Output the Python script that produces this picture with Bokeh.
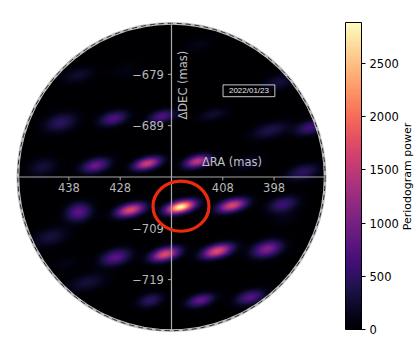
import numpy as np
from bokeh.core.properties import value
from bokeh.embed import file_html
from bokeh.models import (ColorBar, FixedTicker, Label, LinearColorMapper, Range1d)
from bokeh.palettes import Magma256
from bokeh.plotting import figure
from bokeh.resources import INLINE

# Peak positions and powers
blob_ra = [412.9, 436.1, 427.0, 397.1, 439.6, 429.3, 419.8, 409.8, 398.7, 390.9, 443.1, 432.8, 422.7, 412.9, 403.0, 392.3,
           436.1, 426.0, 416.2, 406.1, 396.2, 441.6, 428.9, 419.2, 409.0, 399.3, 434.4, 422.1, 412.3, 402.6, 395.8, 438.5]
blob_dec = [-673.4, -679.2, -678.2, -680.6, -688.4, -687.6, -687.2, -686.8, -689.9, -689.4, -697.1, -696.8, -696.4, -696.0, -696.2, -698.1,
            -705.9, -705.5, -704.9, -704.6, -704.4, -710.8, -714.7, -714.1, -713.5, -713.1, -719.6, -723.1, -723.1, -722.5, -707.1, -715.9]
blob_power = [120, 250, 100, 300, 480, 720, 720, 250, 380, 620, 300, 900, 1600, 1500, 250, 480,
              800, 1750, 2880, 1700, 600, 320, 800, 1750, 1750, 1050, 300, 500, 850, 750, 110, 110]
blob_len = [2.2, 2.2, 2.2, 2.2, 2.2, 1.9, 1.8, 2.0, 2.6, 2.0, 2.0, 1.9, 1.8, 1.7, 2.0, 2.2,
            1.7, 1.9, 1.9, 1.9, 2.0, 2.4, 2.0, 1.9, 2.0, 2.0, 2.6, 1.7, 1.8, 1.9, 2.0, 2.0]
blob_wid = [1.0, 1.0, 1.0, 1.0, 1.2, 0.9, 0.8, 0.8, 1.0, 0.9, 1.2, 0.9, 0.75, 0.75, 0.9, 1.0,
            1.2, 0.8, 0.75, 0.8, 1.0, 1.2, 1.0, 0.8, 0.8, 1.0, 1.1, 0.9, 0.8, 0.9, 1.0, 1.0]

ra_ticks = [438, 428, 408, 398]
dec_ticks = [-679, -689, -709, -719]
cbar_ticks = [0, 500, 1000, 1500, 2000, 2500]
center_ra, center_dec, disk_radius = 418.0, -699.0, 29.95
highlight_ra, highlight_dec = 416.15, -704.7
highlight_w, highlight_h = 10.9, 9.75
date_text = "2022/01/23"
power_max = 2885

# sky image built from the read peaks
n = 460
ras = np.linspace(center_ra - disk_radius, center_ra + disk_radius, n)
decs = np.linspace(center_dec - disk_radius, center_dec + disk_radius, n)
X, Y = np.meshgrid(ras, decs)
Z = np.zeros_like(X)
tilt = np.deg2rad(14)
for r, d, pw, ln, wd in zip(blob_ra, blob_dec, blob_power, blob_len, blob_wid):
    dx, dy = -(X - r), Y - d
    u = dx * np.cos(tilt) + dy * np.sin(tilt)
    v = -dx * np.sin(tilt) + dy * np.cos(tilt)
    Z += pw * np.exp(-0.5 * (u / ln) ** 2 - 0.5 * (v / wd) ** 2)
Z[(X - center_ra) ** 2 + (Y - center_dec) ** 2 > disk_radius ** 2] = np.nan

mapper = LinearColorMapper(palette=Magma256, low=0, high=power_max, nan_color=(0, 0, 0, 0))

p = figure(width=416, height=340, output_backend="svg", toolbar_location=None,
           x_axis_type=None, y_axis_type=None, min_border=0, outline_line_color=None,
           x_range=Range1d(451.33, 370.24), y_range=Range1d(-730.87, -664.6))
p.grid.visible = False
p.image(image=[Z], x=center_ra - disk_radius, y=center_dec - disk_radius, dw=2 * disk_radius, dh=2 * disk_radius,
        color_mapper=mapper)

p.circle(x=[center_ra], y=[center_dec], radius=disk_radius, fill_color=None, line_color="#bcbcbc", line_width=2.8)
p.circle(x=[center_ra], y=[center_dec], radius=disk_radius, fill_color=None, line_color="#2a2a2a", line_width=1.0, line_dash="5 4")

axis_color = "#a8a8a8"
p.segment(x0=[center_ra - disk_radius, center_ra], y0=[center_dec, center_dec - disk_radius],
          x1=[center_ra + disk_radius, center_ra], y1=[center_dec, center_dec + disk_radius],
          line_color=axis_color, line_width=1.2)
p.segment(x0=ra_ticks, x1=ra_ticks, y0=[center_dec] * 4, y1=[center_dec - 0.7] * 4, line_color=axis_color, line_width=1)
p.segment(x0=[center_ra] * 4, x1=[center_ra + 0.7] * 4, y0=dec_ticks, y1=dec_ticks, line_color=axis_color, line_width=1)

font = value("DejaVu Sans")
p.text(x=ra_ticks, y=[center_dec - 1.25] * 4, text=[str(t) for t in ra_ticks], text_font=font, text_font_size="11.5px",
       text_color="#b8b8b8", text_align="center", text_baseline="top")
p.text(x=[center_ra + 1.5] * 4, y=dec_ticks, text=["\u2212" + str(-t) for t in dec_ticks], text_font=font, text_font_size="11.5px",
       text_color="#b8b8b8", text_align="right", text_baseline="middle")
p.text(x=[406.2], y=[-696.0], text=["\u0394RA (mas)"], text_font=font, text_font_size="11.5px", text_color="#c0c0c0",
       text_align="center", text_baseline="middle")
p.text(x=[415.7], y=[-681.1], text=["\u0394DEC (mas)"], text_font=font, text_font_size="11.5px", text_color="#c0c0c0",
       text_align="center", text_baseline="middle", angle=[90], angle_units="deg")

p.ellipse(x=[highlight_ra], y=[highlight_dec], width=highlight_w, height=highlight_h, fill_color=None,
          line_color="#ee2a0c", line_width=3.2)

p.rect(x=[402.9], y=[-682.2], width=10.1, height=2.3, fill_color=None, line_color="#c8c8c8", line_width=1)
p.text(x=[402.9], y=[-682.2], text=[date_text], text_font=value("Liberation Sans"), text_font_size="8px", text_color="#e8e8e8",
       text_align="center", text_baseline="middle")

cb = ColorBar(color_mapper=mapper, ticker=FixedTicker(ticks=cbar_ticks), width=16, height=307, padding=0,
              location=(345, 11), major_tick_in=0, major_tick_out=4, major_tick_line_color="#000000",
              minor_tick_line_color=None, bar_line_color="#000000", bar_line_width=1,
              major_label_text_font="DejaVu Sans", major_label_text_font_size="11.5px",
              major_label_text_color="#000000", label_standoff=4, background_fill_color=None, border_line_color=None)
p.add_layout(cb, "center")
p.add_layout(Label(x=407, y=164, x_units="screen", y_units="screen", text="Periodogram power", angle=90, angle_units="deg",
                   text_font="DejaVu Sans", text_font_size="11px", text_color="#000000", text_align="center",
                   text_baseline="middle"))

open("out.html", "w").write(file_html(p, INLINE))
